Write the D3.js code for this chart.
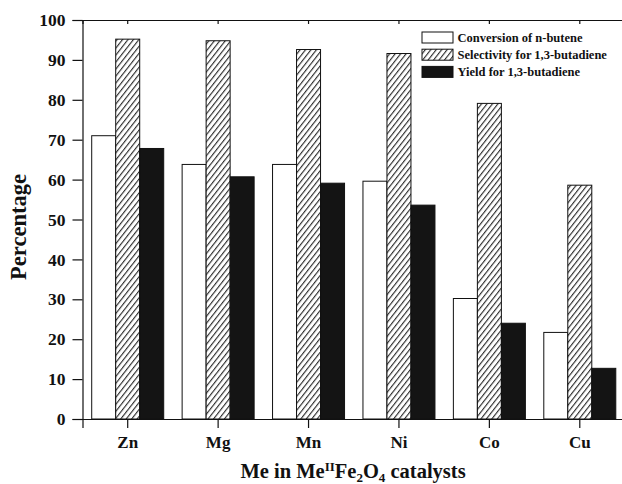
<!DOCTYPE html>
<html><head><meta charset="utf-8">
<script src="https://cdn.jsdelivr.net/npm/d3@7"></script>
<style>body{margin:0;background:#fff}svg{display:block}</style>
</head><body><svg id="c" width="622" height="484"></svg>
<script>
const categories = ["Zn","Mg","Mn","Ni","Co","Cu"];
const seriesNames = ["Conversion of n-butene","Selectivity for 1,3-butadiene","Yield for 1,3-butadiene"];
const conversion = [71.0, 63.8, 63.8, 59.6, 30.2, 21.7];
const selectivity = [95.2, 94.8, 92.6, 91.6, 79.1, 58.6];
const yieldVals = [67.8, 60.7, 59.1, 53.6, 24.0, 12.7];
const yTicks = [0,10,20,30,40,50,60,70,80,90,100];
const FONT = "'Liberation Serif', 'Times New Roman', Times, serif";

const svg = d3.select("#c");
const m = {l:82.5, t:20, r:-3, b:65};
const W = 622 - m.l - m.r, H = 484 - m.t - m.b;

const defs = svg.append("defs");
const pat = defs.append("pattern").attr("id","hatch").attr("patternUnits","userSpaceOnUse")
  .attr("width",4.3).attr("height",4.3).attr("patternTransform","rotate(38)");
pat.append("rect").attr("width",4.3).attr("height",4.3).attr("fill","#fff");
pat.append("line").attr("x1",0.6).attr("y1",0).attr("x2",0.6).attr("y2",4.3).attr("stroke","#111").attr("stroke-width",1.0);

const g = svg.append("g").attr("transform",`translate(${m.l},${m.t})`);
const x = d3.scaleBand().domain(categories).range([0,W]).paddingInner(0).paddingOuter(0);
const y = d3.scaleLinear().domain([0,100]).range([H,0]);
const barW = 24;
const fills = ["#fff","url(#hatch)","#141414"];
const data = [conversion, selectivity, yieldVals];

data.forEach((arr,si)=>{
  g.selectAll(null).data(categories).enter().append("rect")
    .attr("x",(d)=>x(d)+x.bandwidth()/2 + (si-1.5)*barW)
    .attr("y",(d,i)=>y(arr[i]))
    .attr("width",barW)
    .attr("height",(d,i)=>H-y(arr[i]))
    .attr("fill",fills[si]).attr("stroke","#111").attr("stroke-width",1);
});

// axes
const yAx = g.append("g").call(d3.axisLeft(y).tickValues(yTicks).tickSize(10).tickPadding(7));
yAx.selectAll("text").style("font-size","17.5px");
const xAx = g.append("g").attr("transform",`translate(0,${H})`).call(d3.axisBottom(x).tickSize(9).tickPadding(8));
xAx.selectAll("text").style("font-size","17px");
const topAx = g.append("g").call(d3.axisTop(x).tickSize(-4).tickFormat(""));
[yAx,xAx,topAx].forEach(a=>{
  a.attr("font-family",null);
  a.selectAll("path,line").attr("stroke","#111").attr("stroke-width",1.2);
});

// titles
const xt = svg.append("text").attr("x",353).attr("y",478).attr("text-anchor","middle").style("font-size","20.5px");
xt.append("tspan").text("Me in Me");
xt.append("tspan").text("II").attr("dy",-7).style("font-size","13px");
xt.append("tspan").text("Fe").attr("dy",7);
xt.append("tspan").text("2").attr("dy",3.5).style("font-size","13px");
xt.append("tspan").text("O").attr("dy",-3.5);
xt.append("tspan").text("4").attr("dy",3.5).style("font-size","13px");
xt.append("tspan").text(" catalysts").attr("dy",-3.5);

svg.append("text").attr("transform","translate(26,227) rotate(-90)").attr("text-anchor","middle").style("font-size","22.5px").text("Percentage");

// legend
const lg = svg.append("g").attr("transform","translate(422,32)");
seriesNames.forEach((n,i)=>{
  lg.append("rect").attr("x",0).attr("y",i*17.2).attr("width",31).attr("height",11)
    .attr("fill",fills[i]).attr("stroke","#111").attr("stroke-width",1);
  lg.append("text").attr("x",35.5).attr("y",i*17.2+10).style("font-size","12.5px").text(n);
});

svg.selectAll("text").style("font-family",FONT).style("font-weight","bold").style("fill","#111");
</script></body></html>
